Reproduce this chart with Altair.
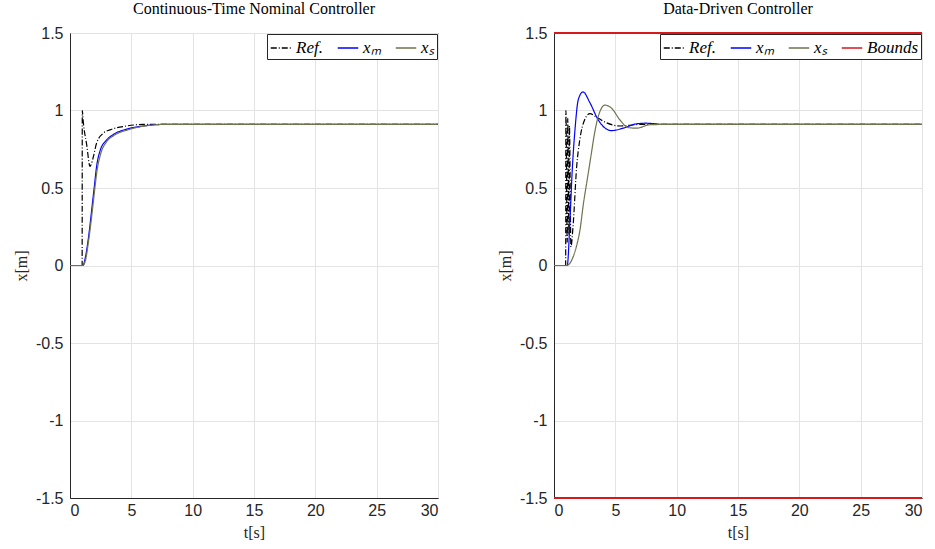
import altair as alt
import pandas as pd

# ---------------- data ----------------
# Left panel: Continuous-Time Nominal Controller
t_ref_L = [0, 0.99, 1.0, 1.09, 1.36, 1.63, 1.72, 1.9, 2.17, 2.72, 3.26, 4.6, 6.0, 30]
v_ref_L = [0, 0, 1.0, 0.92, 0.78, 0.64, 0.65, 0.70, 0.79, 0.854, 0.875, 0.90, 0.91, 0.91]

t_xm_L = [0, 1.05, 1.22, 1.49, 1.77, 1.97, 2.17, 2.45, 2.99, 3.53, 4.62, 5.98, 7.5, 30]
v_xm_L = [0, 0, 0.04, 0.17, 0.36, 0.50, 0.64, 0.74, 0.81, 0.845, 0.88, 0.90, 0.91, 0.91]

t_xs_L = [0, 1.05, 1.25, 1.5, 1.8, 2.0, 2.2, 2.5, 3.0, 3.6, 4.7, 6.1, 7.7, 30]
v_xs_L = [0, 0, 0.03, 0.15, 0.34, 0.48, 0.61, 0.72, 0.80, 0.84, 0.875, 0.90, 0.91, 0.91]

# Right panel: Data-Driven Controller
t_ref_R = [0, 0.95, 0.97, 1.08, 1.12, 1.22, 1.26, 1.38, 1.55, 1.85, 2.1, 2.5, 2.93, 3.4, 4.3, 5.4, 7, 30]
v_ref_R = [0, 0, 1.0, 0.15, 0.95, 0.2, 0.9, 0.12, 0.25, 0.64, 0.81, 0.94, 0.98, 0.96, 0.92, 0.90, 0.91, 0.91]

t_xm_R = [0, 1.08, 1.3, 1.49, 1.71, 1.98, 2.36, 2.93, 3.6, 4.28, 4.69, 5.64, 6.73, 7.5, 9, 30]
v_xm_R = [0, 0, 0.29, 0.62, 0.875, 1.07, 1.12, 1.05, 0.94, 0.88, 0.87, 0.886, 0.914, 0.918, 0.91, 0.91]

t_xs_R = [0, 1.03, 1.3, 1.58, 1.85, 2.12, 2.4, 2.7, 3.0, 3.3, 3.6, 4.16, 4.69, 5.37, 6.05, 6.73, 7.8, 9, 30]
v_xs_R = [0, 0, 0.015, 0.06, 0.13, 0.23, 0.40, 0.55, 0.70, 0.85, 0.96, 1.035, 1.015, 0.94, 0.89, 0.886, 0.908, 0.91, 0.91]

t_bounds = [0, 30]
upper_bound = [1.5, 1.5]
lower_bound = [-1.5, -1.5]

series_names = ["Ref.", "xₘ", "xₛ", "Bounds"]
series_colors = ["#000000", "#0000ff", "#6f7350", "#d7191c"]
series_dash = [[6, 2, 1, 2], [1, 0], [1, 0], [1, 0]]

x_ticks = [0, 5, 10, 15, 20, 25, 30]
y_ticks = [-1.5, -1, -0.5, 0, 0.5, 1, 1.5]

# ---------------- build tables ----------------
def frame(name, ts, vs, grp):
    return pd.DataFrame({"t": ts, "x": vs, "series": name, "grp": grp})

df_L = pd.concat([
    frame("Ref.", t_ref_L, v_ref_L, "a"),
    frame("xₘ", t_xm_L, v_xm_L, "b"),
    frame("xₛ", t_xs_L, v_xs_L, "c"),
])
df_R = pd.concat([
    frame("Ref.", t_ref_R, v_ref_R, "a"),
    frame("xₘ", t_xm_R, v_xm_R, "b"),
    frame("xₛ", t_xs_R, v_xs_R, "c"),
])
df_B = pd.concat([
    frame("Bounds", t_bounds, upper_bound, "u"),
    frame("Bounds", t_bounds, lower_bound, "l"),
])

SERIF = "Liberation Serif"
SANS = "Liberation Sans"
AX = "#262626"
W, H = 368, 465

x_axis = alt.Axis(values=x_ticks, title="t[s]", titleFont=SERIF, titleFontSize=16,
                  titleFontWeight="normal", titleColor=AX, titlePadding=6,
                  labelFont=SANS, labelFontSize=16, labelColor=AX, labelPadding=4,
                  ticks=False, domainColor=AX, gridColor="#e3e3e3",
                  labelExpr="toString(datum.value)")
y_axis = alt.Axis(values=y_ticks, title="x[m]", titleFont=SERIF, titleFontSize=16,
                  titleFontWeight="normal", titleColor=AX, titlePadding=6,
                  labelFont=SANS, labelFontSize=16, labelColor=AX, labelPadding=7,
                  ticks=False, domainColor=AX, gridColor="#e3e3e3",
                  labelExpr="toString(datum.value)")

x_enc = alt.X("t:Q", scale=alt.Scale(domain=[0, 30], nice=False, zero=False), axis=x_axis)
y_enc = alt.Y("x:Q", scale=alt.Scale(domain=[-1.5, 1.5], nice=False, zero=False), axis=y_axis)


def legend(colpad):
    return alt.Legend(orient="top-right", direction="horizontal", title=None,
                      symbolType="stroke", symbolSize=420, symbolStrokeWidth=1.3,
                      labelFont=SERIF, labelFontStyle="italic", labelFontSize=17,
                      labelColor="#000000", fillColor="white", strokeColor=AX,
                      padding=3, offset=1, columnPadding=colpad, labelOffset=4,
                      cornerRadius=0)


def panel(df, n, title, colpad, bounds=None):
    names = series_names[:n]
    color = alt.Color("series:N", scale=alt.Scale(domain=names, range=series_colors[:n]),
                      legend=legend(colpad))
    dash = alt.StrokeDash("series:N", scale=alt.Scale(domain=names, range=series_dash[:n]),
                          legend=legend(colpad))
    lines = alt.Chart(df).mark_line(strokeWidth=1.2, clip=True, interpolate="monotone").encode(
        x=x_enc, y=y_enc, color=color, strokeDash=dash, detail="grp:N",
        order="t:Q")
    layers = [lines]
    if bounds is not None:
        b = alt.Chart(bounds).mark_line(strokeWidth=2.2).encode(
            x=x_enc, y=y_enc, color=color, strokeDash=dash, detail="grp:N")
        layers.append(b)
    return alt.layer(*layers).properties(
        width=W, height=H,
        title=alt.TitleParams(title, font=SERIF, fontSize=16, fontWeight="normal",
                              color="#000000", offset=8, anchor="middle"))


left = panel(df_L, 3, "Continuous-Time Nominal Controller", 12)
right = panel(df_R, 4, "Data-Driven Controller", 12, bounds=df_B)

chart = alt.hconcat(left, right, spacing=116, bounds="flush").resolve_scale(
    color="independent", strokeDash="independent"
).properties(
    padding={"left": 12, "top": 0, "right": 5, "bottom": 5},
    background="white",
).configure_view(stroke=AX, strokeWidth=1)

chart.save("out.html", embed_options={"renderer": "svg", "actions": False})
